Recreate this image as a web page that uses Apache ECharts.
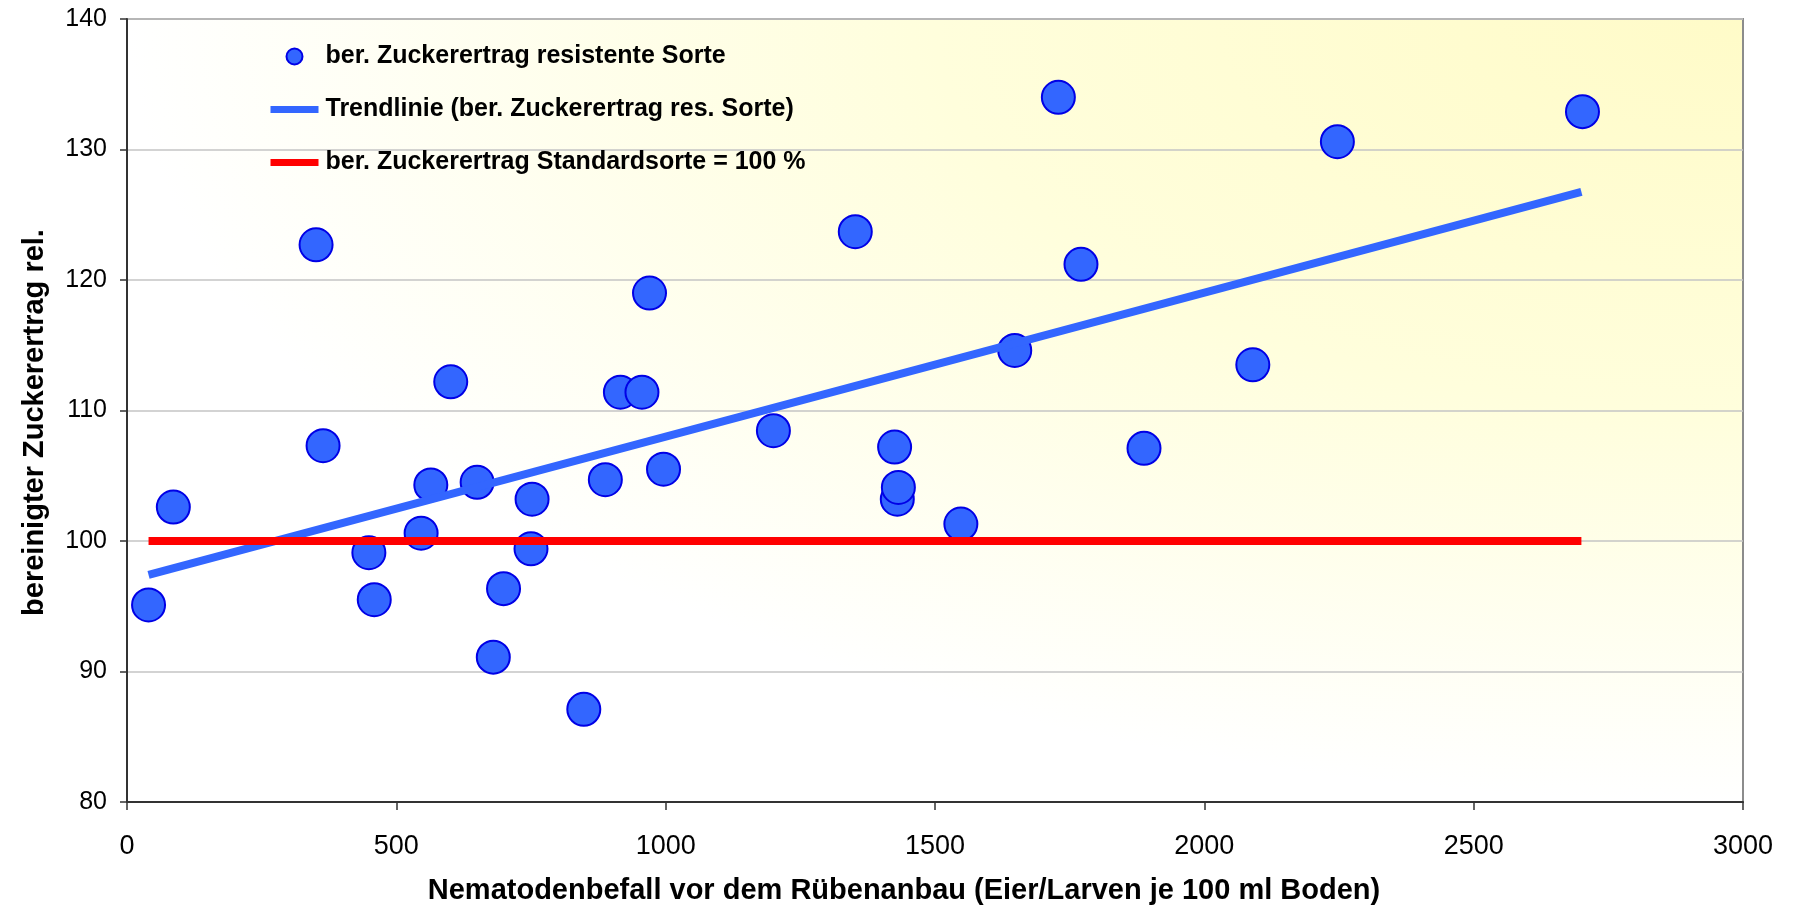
<!DOCTYPE html>
<html>
<head>
<meta charset="utf-8">
<script src="https://cdn.jsdelivr.net/npm/echarts@6/dist/echarts.min.js"></script>
<style>
  html, body { margin: 0; padding: 0; background: #ffffff; }
  #chart { width: 1796px; height: 910px; }
</style>
</head>
<body>
<div id="chart"></div>
<script>
// ---- data ----
const seriesNames = [
  'ber. Zuckerertrag resistente Sorte',
  'Trendlinie (ber. Zuckerertrag res. Sorte)',
  'ber. Zuckerertrag Standardsorte = 100 %'
];
const infestation = [40, 86, 351, 364, 449, 459, 546, 564, 601, 650, 680, 699, 750, 752, 848, 888, 916, 956, 970, 996, 1200, 1352, 1425, 1430, 1432, 1548, 1648, 1729, 1771, 1888, 2090, 2247, 2702];
const sugarYield  = [95.1, 102.6, 122.7, 107.3, 99.1, 95.5, 100.6, 104.3, 112.2, 104.5, 91.1, 96.35, 99.4, 103.2, 87.1, 104.7, 111.4, 111.4, 119.0, 105.5, 108.45, 123.7, 107.2, 103.2, 104.1, 101.3, 114.6, 134.0, 121.2, 107.1, 113.5, 130.6, 132.9];
const trendX = [40, 2700];
const trendY = [97.4, 126.75];
const standardX = [40, 2700];
const standardY = [100, 100];
const xTitle = 'Nematodenbefall vor dem Rübenanbau (Eier/Larven je 100 ml Boden)';
const yTitle = 'bereinigter Zuckerertrag rel.';

const FONT = "'Liberation Sans', Arial, Helvetica, sans-serif";

const pairs = (xs, ys) => xs.map((x, i) => [x, ys[i]]);

const chart = echarts.init(document.getElementById('chart'), null, { renderer: 'canvas' });
chart.setOption({
  animation: false,
  backgroundColor: '#ffffff',
  grid: {
    left: 127, right: 53, top: 19, bottom: 106,
    show: true,
    borderColor: '#8c8c8c',
    borderWidth: 2,
    backgroundColor: 'transparent'
  },
  legend: {
    orient: 'vertical',
    left: 262, top: 39,
    itemWidth: 48, itemHeight: 16,
    itemGap: 28,
    textStyle: { fontFamily: FONT, fontSize: 25, fontWeight: 'bold', color: '#000', lineHeight: 25, padding: [0, 0, 0, 2] },
    data: [
      { name: seriesNames[0] },
      { name: seriesNames[1], lineStyle: { width: 7 }, itemStyle: { color: 'transparent', borderWidth: 0 } },
      { name: seriesNames[2], lineStyle: { width: 7 }, itemStyle: { color: 'transparent', borderWidth: 0 } }
    ]
  },
  xAxis: {
    type: 'value',
    min: 0, max: 3000, interval: 500,
    name: xTitle,
    nameLocation: 'middle',
    nameGap: 74,
    nameTextStyle: { fontFamily: FONT, fontSize: 29, fontWeight: 'bold', color: '#000', padding: [0, 62, 0, 0] },
    axisLine: { show: true, lineStyle: { color: '#333', width: 2 } },
    axisTick: { show: true, length: 8, lineStyle: { color: '#333', width: 1.5 } },
    axisLabel: { fontFamily: FONT, fontSize: 27, color: '#000', margin: 31, formatter: v => String(v) },
    splitLine: { show: false }
  },
  yAxis: {
    type: 'value',
    min: 80, max: 140, interval: 10,
    name: yTitle,
    nameLocation: 'middle',
    nameGap: 78,
    nameTextStyle: { fontFamily: FONT, fontSize: 29, fontWeight: 'bold', color: '#000', padding: [0, 24, 0, 0] },
    axisLine: { show: true, lineStyle: { color: '#333', width: 2 } },
    axisTick: { show: true, length: 7, lineStyle: { color: '#333', width: 1.5 } },
    axisLabel: { fontFamily: FONT, fontSize: 25, color: '#000', margin: 20, formatter: v => String(v) },
    splitLine: { show: true, lineStyle: { color: '#c4c4c4', width: 1.5 } }
  },
  series: [
    {
      name: seriesNames[0],
      type: 'scatter',
      z: 2,
      symbol: 'circle',
      symbolSize: 33,
      itemStyle: { color: '#3366ff', borderColor: '#0000e6', borderWidth: 2, opacity: 1 },
      data: pairs(infestation, sugarYield)
    },
    {
      name: seriesNames[1],
      type: 'line',
      z: 3,
      symbol: 'none',
      lineStyle: { color: '#3366ff', width: 8 },
      itemStyle: { color: '#3366ff' },
      data: pairs(trendX, trendY)
    },
    {
      name: seriesNames[2],
      type: 'line',
      z: 4,
      symbol: 'none',
      lineStyle: { color: '#ff0000', width: 8 },
      itemStyle: { color: '#ff0000' },
      data: pairs(standardX, standardY)
    }
  ]
});

// Plot-area background: light-yellow shading fading from the top-right corner
// (elliptical radial gradient, obtained by stretching a square horizontally).
const p0 = chart.convertToPixel({ gridIndex: 0 }, [0, 140]);
const p1 = chart.convertToPixel({ gridIndex: 0 }, [3000, 80]);
const pw = p1[0] - p0[0], ph = p1[1] - p0[1];
chart.setOption({
  graphic: [{
    type: 'rect',
    x: p0[0], y: p0[1],
    scaleX: pw / ph, scaleY: 1,
    z: -10, silent: true,
    shape: { x: 0, y: 0, width: ph, height: ph },
    style: {
      fill: new echarts.graphic.RadialGradient(1, 0, 1, [
        { offset: 0, color: '#fffbc8' },
        { offset: 0.5, color: '#fffedc' },
        { offset: 1, color: '#ffffff' }
      ])
    }
  }]
});
</script>
</body>
</html>
